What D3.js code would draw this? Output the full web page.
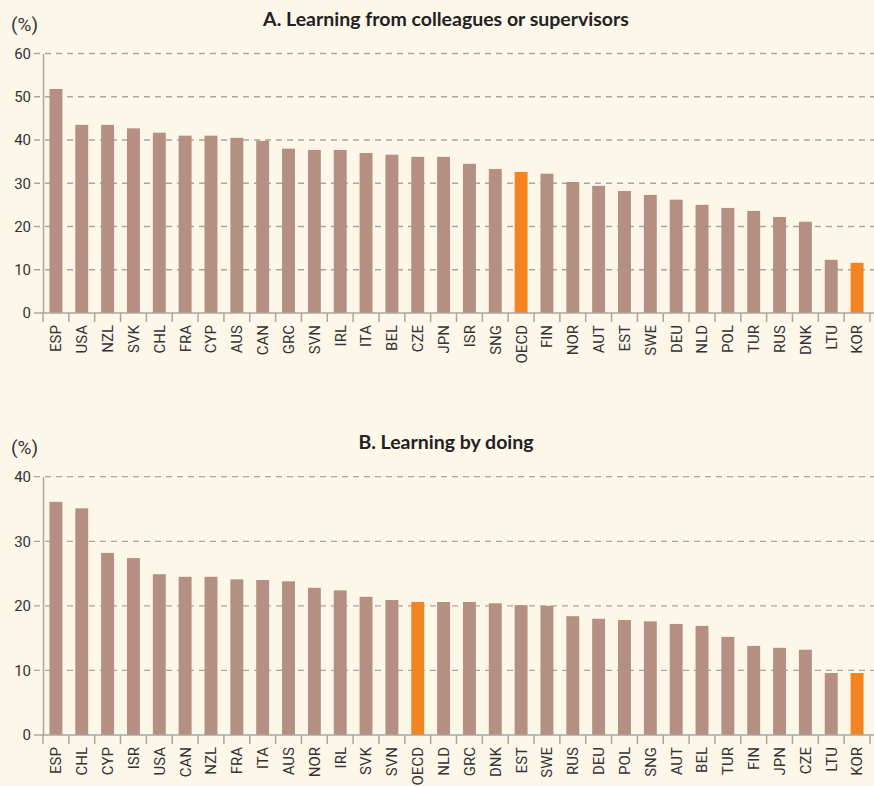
<!DOCTYPE html>
<html>
<head>
<meta charset="utf-8">
<script src="https://cdn.jsdelivr.net/npm/d3@7"></script>
<style>
  body { margin: 0; background: #fdf7ea; }
  svg { display: block; }
  .tick text { font-family: Roboto, sans-serif; font-size: 15px; fill: #333; }
  .title { font-family: Lato, sans-serif; font-weight: 700; font-size: 19.5px; fill: #222; }
  .unit { font-family: Roboto, sans-serif; font-size: 19px; fill: #333; }
</style>
</head>
<body>
<svg id="chart" width="874" height="786"></svg>
<script>
// Panel A: learning from colleagues or supervisors
const countriesA = ["ESP","USA","NZL","SVK","CHL","FRA","CYP","AUS","CAN","GRC","SVN","IRL","ITA","BEL","CZE","JPN","ISR","SNG","OECD","FIN","NOR","AUT","EST","SWE","DEU","NLD","POL","TUR","RUS","DNK","LTU","KOR"];
const valuesA = [51.8,43.5,43.5,42.7,41.7,41.0,41.0,40.5,39.8,38.0,37.7,37.7,37.0,36.6,36.1,36.1,34.5,33.3,32.6,32.2,30.3,29.4,28.2,27.3,26.2,25.0,24.3,23.6,22.2,21.1,12.3,11.6];
const ticksA = [0,10,20,30,40,50,60];

// Panel B: learning by doing
const countriesB = ["ESP","CHL","CYP","ISR","USA","CAN","NZL","FRA","ITA","AUS","NOR","IRL","SVK","SVN","OECD","NLD","GRC","DNK","EST","SWE","RUS","DEU","POL","SNG","AUT","BEL","TUR","FIN","JPN","CZE","LTU","KOR"];
const valuesB = [36.1,35.1,28.2,27.4,24.9,24.5,24.5,24.1,24.0,23.8,22.8,22.4,21.4,20.9,20.6,20.6,20.6,20.4,20.1,20.0,18.4,18.0,17.8,17.6,17.2,16.9,15.2,13.8,13.5,13.2,9.6,9.6];
const ticksB = [0,10,20,30,40];

const highlight = ["OECD","KOR"];
const barColor = "#b58f82";
const hiColor = "#f28522";
const gridColor = "#aaa69f";

const svg = d3.select("#chart");

function drawPanel(opts) {
    const { cats, vals, ticks, yTop, yZero, title, titleY } = opts;
    const left = 43, right = 870;
    const g = svg.append("g");

    const x = d3.scaleBand().domain(cats).range([left, right]).paddingInner(0.5).paddingOuter(0.25);
    const y = d3.scaleLinear().domain([0, d3.max(ticks)]).range([yZero, yTop]);

    // dashed gridlines
    g.selectAll(".grid").data(ticks.filter(t => t > 0)).enter()
        .append("line")
        .attr("x1", 34).attr("x2", 874)
        .attr("y1", d => y(d)).attr("y2", d => y(d))
        .attr("stroke", gridColor).attr("stroke-width", 1.3)
        .attr("stroke-dasharray", "6,5");

    // bars
    g.selectAll(".bar").data(cats).enter()
        .append("rect")
        .attr("x", d => x(d))
        .attr("width", x.bandwidth())
        .attr("y", (d, i) => y(vals[i]))
        .attr("height", (d, i) => yZero - y(vals[i]))
        .attr("fill", d => highlight.includes(d) ? hiColor : barColor);

    // y axis
    const yAxis = g.append("g")
        .attr("transform", `translate(${left},0)`)
        .call(d3.axisLeft(y).tickValues(ticks).tickSize(0).tickPadding(12));
    yAxis.select(".domain").attr("stroke", gridColor).attr("stroke-width", 1.5);

    // x axis
    const step = x.step();
    const xAxis = g.append("g")
        .attr("transform", `translate(0,${yZero})`)
        .call(d3.axisBottom(x).tickSize(0).tickPadding(0));
    xAxis.select(".domain").remove();
    xAxis.selectAll(".tick text")
        .attr("transform", "rotate(-90)")
        .attr("text-anchor", "end")
        .attr("dy", "0.36em")
        .attr("x", -12)
        .attr("y", 0);

    g.append("line")
        .attr("x1", 34).attr("x2", 874)
        .attr("y1", yZero).attr("y2", yZero)
        .attr("stroke", gridColor).attr("stroke-width", 1.5);

    // tick marks at band boundaries
    const bounds = cats.map(c => x(c) - (step - x.bandwidth()) / 2).concat([right]);
    g.selectAll(".xt").data(bounds).enter()
        .append("line")
        .attr("x1", d => d).attr("x2", d => d)
        .attr("y1", yZero).attr("y2", yZero + 9)
        .attr("stroke", gridColor).attr("stroke-width", 1.5);

    g.append("text").attr("class", "unit")
        .attr("x", 11).attr("y", titleY + 5)
        .text("(%)");

    g.append("text").attr("class", "title")
        .attr("x", 446).attr("y", titleY)
        .attr("text-anchor", "middle")
        .text(title);
}

drawPanel({ cats: countriesA, vals: valuesA, ticks: ticksA, yTop: 53.5, yZero: 313,
    title: "A. Learning from colleagues or supervisors", titleY: 26 });
drawPanel({ cats: countriesB, vals: valuesB, ticks: ticksB, yTop: 476.7, yZero: 735,
    title: "B. Learning by doing", titleY: 449 });
</script>
</body>
</html>
